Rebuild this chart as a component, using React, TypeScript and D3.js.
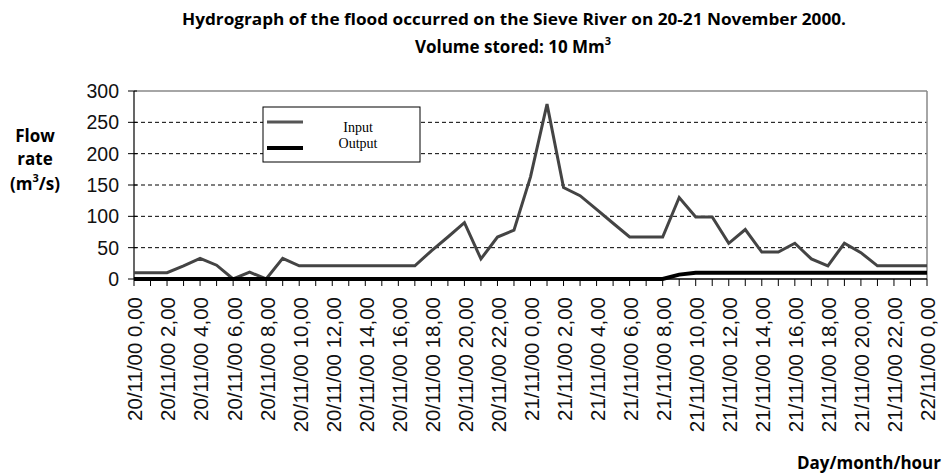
import React from "react";
import * as d3 from "d3";

const hours: number[] = [
  0, 1, 2, 3, 4, 5, 6, 7, 8, 9, 10, 11, 12, 13, 14, 15, 16, 17, 18, 19, 20, 21, 22, 23, 24,
  25, 26, 27, 28, 29, 30, 31, 32, 33, 34, 35, 36, 37, 38, 39, 40, 41, 42, 43, 44, 45, 46, 47, 48,
];

const inputFlow: number[] = [
  10, 10, 10, 21, 33, 22, 0, 11, 0, 33, 21, 21, 21, 21, 21, 21, 21, 21, 45, 67, 90, 32, 67, 78, 163,
  279, 146, 133, 111, 89, 67, 67, 67, 130, 99, 99, 57, 79, 43, 43, 57, 32, 21, 57, 42, 21, 21, 21, 21,
];

const outputFlow: number[] = [
  0, 0, 0, 0, 0, 0, 0, 0, 0, 0, 0, 0, 0, 0, 0, 0, 0, 0, 0, 0, 0, 0, 0, 0, 0,
  0, 0, 0, 0, 0, 0, 0, 0, 7, 10, 10, 10, 10, 10, 10, 10, 10, 10, 10, 10, 10, 10, 10, 10,
];

const labelHours: number[] = [0, 2, 4, 6, 8, 10, 12, 14, 16, 18, 20, 22, 24, 26, 28, 30, 32, 34, 36, 38, 40, 42, 44, 46, 48];
const xTickLabels: string[] = [
  "20/11/00 0,00", "20/11/00 2,00", "20/11/00 4,00", "20/11/00 6,00", "20/11/00 8,00",
  "20/11/00 10,00", "20/11/00 12,00", "20/11/00 14,00", "20/11/00 16,00", "20/11/00 18,00",
  "20/11/00 20,00", "20/11/00 22,00", "21/11/00 0,00", "21/11/00 2,00", "21/11/00 4,00",
  "21/11/00 6,00", "21/11/00 8,00", "21/11/00 10,00", "21/11/00 12,00", "21/11/00 14,00",
  "21/11/00 16,00", "21/11/00 18,00", "21/11/00 20,00", "21/11/00 22,00", "22/11/00 0,00",
];
const yTicks: number[] = [0, 50, 100, 150, 200, 250, 300];

export default function App() {
  const W = 942, H = 475;
  const x = d3.scaleLinear().domain([0, 48]).range([134, 927]);
  const y = d3.scaleLinear().domain([0, 300]).range([279, 91]);
  const line = d3.line<number>().x((_, i) => x(hours[i])).y((d) => y(d));
  const sans = "'Liberation Sans', Arial, sans-serif";
  const bold = "'Open Sans', 'Noto Sans', sans-serif";
  const x0 = x(0), x1 = x(48), yTop = y(300), yBot = y(0);

  return (
    <svg width={W} height={H} style={{ position: "absolute", left: 0, top: 0, background: "#fff" }}>
      {/* Title */}
      <text x={514} y={25} textAnchor="middle" fontFamily={bold} fontWeight={700} fontSize={16.5}
        textLength={664} lengthAdjust="spacingAndGlyphs" fill="#000">
        Hydrograph of the flood occurred on the Sieve River on 20-21 November 2000.
      </text>
      <text x={513} y={53} textAnchor="middle" fontFamily={bold} fontWeight={700} fontSize={17} fill="#000">
        Volume stored: 10 Mm<tspan dy={-8} fontSize={11}>3</tspan>
      </text>

      {/* Y axis title */}
      <g fontFamily={bold} fontWeight={700} fontSize={17} textAnchor="middle" fill="#000">
        <text x={35} y={142}>Flow</text>
        <text x={35} y={165}>rate</text>
        <text x={35} y={190}>(m<tspan dy={-8} fontSize={11}>3</tspan><tspan dy={8}>/s)</tspan></text>
      </g>

      {/* Gridlines */}
      {yTicks.filter((t) => t > 0 && t < 300).map((t) => (
        <line key={"g" + t} x1={x0} x2={x1} y1={y(t)} y2={y(t)} stroke="#000" strokeWidth={1} strokeDasharray="4,3" />
      ))}

      {/* Frame top/right */}
      <line x1={x0} x2={x1} y1={yTop} y2={yTop} stroke="#888" strokeWidth={1.5} />
      <line x1={x1} x2={x1} y1={yTop} y2={yBot} stroke="#888" strokeWidth={1.5} />

      {/* Y axis */}
      <line x1={x0} x2={x0} y1={yTop} y2={yBot} stroke="#000" strokeWidth={1.2} />
      {yTicks.map((t) => (
        <g key={"y" + t}>
          <line x1={x0 - 6} x2={x0 + 3} y1={y(t)} y2={y(t)} stroke="#000" strokeWidth={1} />
          <text x={119} y={y(t)} dy="0.36em" textAnchor="end" fontFamily={sans} fontSize={19.5} fill="#111">{t}</text>
        </g>
      ))}

      {/* Legend */}
      <rect x={263} y={107} width={157} height={55} fill="#fff" stroke="#000" strokeWidth={1} />
      <line x1={267} x2={303} y1={122} y2={122} stroke="#555" strokeWidth={3} />
      <line x1={267} x2={303} y1={148} y2={148} stroke="#000" strokeWidth={4} />
      <g fontFamily="'Liberation Serif', 'Times New Roman', serif" fontSize={14} textAnchor="middle" fill="#000">
        <text x={358} y={132}>Input</text>
        <text x={358} y={148}>Output</text>
      </g>

      {/* Series */}
      <path d={line(inputFlow) || ""} fill="none" stroke="#444" strokeWidth={3} strokeLinejoin="miter" />
      <path d={line(outputFlow) || ""} fill="none" stroke="#000" strokeWidth={4} />

      {/* X axis */}
      <line x1={x0} x2={x1} y1={yBot} y2={yBot} stroke="#000" strokeWidth={1.5} />
      {hours.map((h) => (
        <line key={"t" + h} x1={x(h)} x2={x(h)} y1={yBot} y2={yBot + 7} stroke="#000" strokeWidth={1} />
      ))}
      {labelHours.map((h, i) => (
        <text key={"l" + h} transform={`translate(${x(h) + 1},297) rotate(-90)`} dy="0.36em" textAnchor="end"
          fontFamily={sans} fontSize={20.5} fill="#111">{xTickLabels[i]}</text>
      ))}

      {/* X axis title */}
      <text x={941} y={469} textAnchor="end" fontFamily={bold} fontWeight={700} fontSize={17} fill="#000">
        Day/month/hour
      </text>
    </svg>
  );
}
